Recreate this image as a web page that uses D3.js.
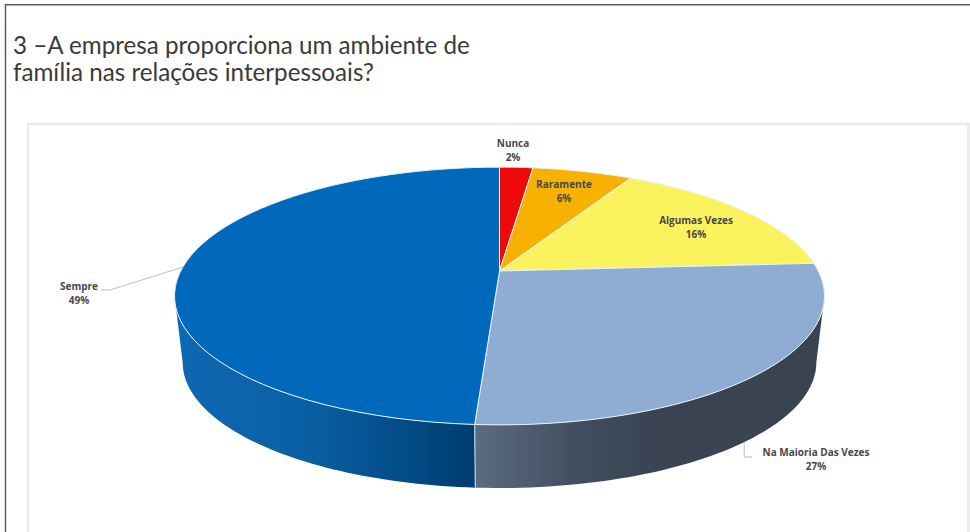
<!DOCTYPE html>
<html lang="pt">
<head>
<meta charset="utf-8">
<script src="https://cdnjs.cloudflare.com/ajax/libs/d3/7.8.5/d3.min.js"></script>
<style>
  html, body { margin: 0; padding: 0; background: #fff; }
  svg { display: block; }
  .title { font-family: Lato, "Open Sans", sans-serif; }
  .label { font-family: "Open Sans", Lato, sans-serif; }
</style>
</head>
<body>
<script>
// Survey answers, in clockwise order from twelve o'clock
const categories = ["Nunca", "Raramente", "Algumas Vezes", "Na Maioria Das Vezes", "Sempre"];
const percentages = [2, 6, 16, 27, 49];
const topColors = ["#ee0a0a", "#f7b100", "#fbf35e", "#8fadd3", "#0069bb"];
const titleLines = ["3 –A empresa proporciona um ambiente de", "família nas relações interpessoais?"];

const width = 970, height = 532;
const svg = d3.select("body").append("svg").attr("width", width).attr("height", height);

// Outer frame and inner chart panel
svg.append("path").attr("d", "M5.5,532V4.8H970").attr("fill", "none").attr("stroke", "#5a5a5a").attr("stroke-width", 1.5);
svg.append("path").attr("d", "M28,532V124H968.5V532").attr("fill", "none").attr("stroke", "#e9e9e9").attr("stroke-width", 2.4);

svg.selectAll(".title").data(titleLines).join("text")
  .attr("class", "title")
  .attr("x", 13).attr("y", (d, i) => 53.5 + i * 27)
  .attr("font-size", 24.2).attr("fill", "#3a3a3a")
  .text(d => d);

// Pie layout: angles run clockwise from the top, as in d3.pie
const pie = d3.pie().sort(null).value(d => d.value);
const slices = pie(categories.map((name, i) => ({ name, value: percentages[i], color: topColors[i] })));

// Perspective projection of the tilted disc; the hub sits above the ellipse centre
const hub = { x: 499.5, y: 271 };
const radiusX = 318.8, radiusY = 124, tilt = -0.194;
const project = (angle, level = 0) => {
  const u = Math.sin(angle), v = -Math.cos(angle), d = 1 + tilt * v;
  const shrink = level ? 0.975 : 1, drop = level ? 67 : 0;
  return [hub.x + radiusX * shrink * u / d, hub.y + drop + radiusY * shrink * v / d];
};
const rimPoints = (a0, a1, level) =>
  d3.range(0, 61).map(i => project(a0 + (a1 - a0) * i / 60, level));

const line = d3.line();

// Gradients for the visible side wall
const defs = svg.append("defs");
const gradients = [
  { id: "wall-grey", x1: 476, x2: 660, stops: [["0%", "#5b6b80"], ["55%", "#414e60"], ["100%", "#394352"]] },
  { id: "wall-blue", x1: 174, x2: 476, stops: [["0%", "#0d69b3"], ["45%", "#0a5fa3"], ["80%", "#024a85"], ["100%", "#003c6f"]] }
];
gradients.forEach(g => {
  const lg = defs.append("linearGradient").attr("id", g.id)
    .attr("gradientUnits", "userSpaceOnUse")
    .attr("x1", g.x1).attr("x2", g.x2).attr("y1", 0).attr("y2", 0);
  g.stops.forEach(s => lg.append("stop").attr("offset", s[0]).attr("stop-color", s[1]));
});

// Side wall spans the front of the rim between the two silhouette extremes
const wallStart = Math.acos(tilt), wallEnd = 2 * Math.PI - wallStart;
const wallFill = { "Na Maioria Das Vezes": "url(#wall-grey)", "Sempre": "url(#wall-blue)" };
slices.filter(s => wallFill[s.data.name]).forEach(s => {
  const a0 = Math.max(s.startAngle, wallStart), a1 = Math.min(s.endAngle, wallEnd);
  const pts = rimPoints(a0, a1, 0).concat(rimPoints(a1, a0, 1));
  svg.append("path").attr("d", line(pts) + "Z").attr("fill", wallFill[s.data.name]);
});
// Seam between the two wall segments
const seam = slices.find(s => s.data.name === "Sempre").startAngle;
svg.append("path").attr("d", line([project(seam, 0), project(seam, 1)]))
  .attr("stroke", "#bfe3f7").attr("stroke-width", 1.1).attr("fill", "none");

// Top face
svg.selectAll(".slice").data(slices).join("path")
  .attr("class", "slice")
  .attr("d", d => line([[hub.x, hub.y], ...rimPoints(d.startAngle, d.endAngle, 0)]) + "Z")
  .attr("fill", d => d.data.color)
  .attr("stroke", "#e6f3fb").attr("stroke-width", 1).attr("stroke-linejoin", "round");

// Data labels and their leader lines
const labelPlaces = [
  { x: 513, y: 147 },
  { x: 564, y: 188 },
  { x: 696, y: 224 },
  { x: 816, y: 456 },
  { x: 79, y: 290 }
];
svg.selectAll(".label").data(slices).join("text")
  .attr("class", "label")
  .attr("text-anchor", "middle")
  .attr("font-size", 10).attr("font-weight", 700).attr("fill", "#484848")
  .attr("transform", (d, i) => `translate(${labelPlaces[i].x},${labelPlaces[i].y})`)
  .each(function (d) {
    const t = d3.select(this);
    t.append("tspan").attr("x", 0).attr("y", 0).text(d.data.name);
    t.append("tspan").attr("x", 0).attr("y", 13.5).text(d.value + "%");
  });

const midAngle = d => (d.startAngle + d.endAngle) / 2;
const sempre = slices[4], maioria = slices[3];
const s0 = project(midAngle(sempre), 0);
const m0 = project(midAngle(maioria) + 0.045, 1);
svg.append("path")
  .attr("d", line([s0, [110, 290], [101, 290]]))
  .attr("fill", "none").attr("stroke", "#b5b5b5").attr("stroke-width", 0.9);
svg.append("path")
  .attr("d", line([m0, [m0[0], 457], [752, 457]]))
  .attr("fill", "none").attr("stroke", "#b5b5b5").attr("stroke-width", 0.9);
</script>
</body>
</html>
